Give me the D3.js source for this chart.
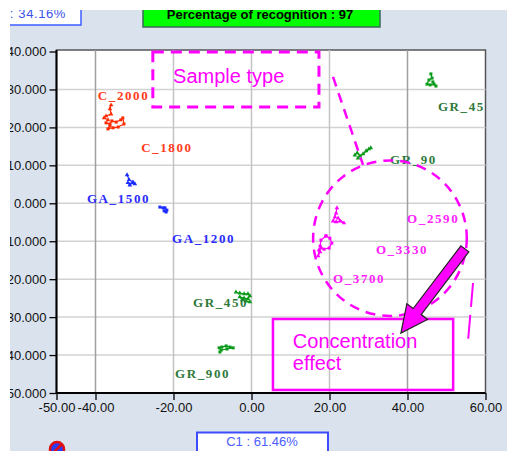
<!DOCTYPE html>
<html>
<head>
<meta charset="utf-8">
<script src="https://cdn.jsdelivr.net/npm/d3@7"></script>
<style>
  html, body { margin: 0; padding: 0; background: #ffffff; }
  svg { display: block; }
</style>
</head>
<body>
<div id="chart"></div>
<script>
// PCA score plot - sample clusters, D3 version

const width = 507;
const height = 451;

// Axis ticks
const xTicks = [-50, -40, -20, 0, 20, 40, 60];
const yTicks = [40, 30, 20, 10, 0, -10, -20, -30, -40, -50];
const xGrid = [-40, -20, 0, 20, 40];
const yGrid = [30, 20, 10, 0, -10, -20, -30, -40];

// Cluster names and their colour group
const clusterNames = ["C_2000", "C_1800", "GA_1500", "GA_1200", "GR_450", "GR_900", "GR_90", "GR_45", "O_2590", "O_3330", "O_3700"];
const clusterGroups = ["C", "C", "GA", "GA", "GR", "GR", "GR", "GR", "O", "O", "O"];

// Score points (C1, C2) of each cluster
const ptsC2000 = [[-36.0, 25.9], [-36.3, 24.9], [-36.0, 23.5], [-37.3, 23.0], [-37.8, 22.5], [-36.8, 22.0]];
const ptsC1800 = [[-37.3, 21.2], [-36.3, 20.9], [-35.8, 21.7], [-34.7, 21.4], [-33.5, 22.0], [-33.0, 22.5], [-32.7, 20.9], [-34.2, 20.1], [-35.5, 19.9], [-36.8, 19.6], [-36.3, 20.4]];
const ptsGA1500 = [[-31.9, 7.5], [-31.4, 6.2], [-30.4, 5.6], [-31.2, 4.8], [-31.7, 5.4], [-29.9, 5.1]];
const ptsGA1200 = [[-23.5, -1.0], [-22.7, -1.2], [-22.2, -1.2], [-21.7, -1.8], [-21.9, -2.3], [-22.4, -2.0]];
const ptsGR450 = [[-4.0, -23.4], [-3.0, -23.7], [-1.9, -23.9], [-0.9, -23.9], [-0.4, -24.4], [-0.9, -25.2], [-1.9, -25.0], [-3.0, -24.7], [-2.4, -25.5], [-1.4, -25.8], [-0.4, -26.0]];
const ptsGR900 = [[-8.3, -38.1], [-7.6, -37.9], [-6.5, -37.6], [-5.5, -37.9], [-4.7, -38.1], [-6.3, -38.4], [-7.8, -38.7], [-8.1, -39.2]];
const ptsGR90 = [[26.5, 12.7], [27.1, 13.3], [27.8, 12.5], [28.6, 13.0], [29.4, 13.8], [30.1, 14.3], [30.6, 14.6], [27.3, 11.9]];
const ptsGR45 = [[46.0, 34.1], [46.3, 33.0], [45.5, 32.5], [45.0, 31.4], [45.8, 31.2], [46.8, 31.4], [47.3, 30.9], [46.5, 32.0]];
const ptsO2590 = [[21.9, -1.2], [21.7, -2.6], [21.4, -3.6], [20.9, -4.7], [21.7, -4.9], [22.7, -4.7], [23.7, -5.2], [22.2, -3.9]];
const ptsO3330 = [[19.1, -8.6], [20.1, -9.2], [20.6, -10.5], [19.9, -11.8], [18.6, -12.1], [17.6, -11.3], [17.8, -9.7], [19.1, -8.6]];
const ptsO3700 = [[17.8, -11.8], [17.3, -12.3], [17.1, -13.9], [17.6, -12.8]];
const clusterPoints = [ptsC2000, ptsC1800, ptsGA1500, ptsGA1200, ptsGR450, ptsGR900, ptsGR90, ptsGR45, ptsO2590, ptsO3330, ptsO3700];

// Where each cluster name is written (data units)
const labelX = [-39.4, -28.3, -42.2, -20.4, -15.0, -19.6, 35.5, 47.8, 39.9, 31.9, 20.9];
const labelY = [27.2, 13.5, 0.1, -10.5, -27.3, -46.0, 10.4, 24.3, -5.2, -13.4, -21.0];

// Percentages shown in the header / footer boxes
const headerTexts = ["C2 : 34.16%", "Percentage of recognition : 97", "C1 : 61.46%"];

const groupColor = { C: "#ff2a00", GA: "#1a2cff", GR: "#0a9a1a", O: "#ff00ff" };
const labelColor = { C: "#ff3a1a", GA: "#2a2aff", GR: "#2e7a3a", O: "#ff22ff" };
const magenta = "#ff00ff";

const svg = d3.select("#chart").append("svg")
  .attr("width", width)
  .attr("height", height);

svg.append("clipPath").attr("id", "panel-clip")
  .append("rect").attr("x", 10).attr("y", 10).attr("width", width - 10).attr("height", height - 10);

const panel = svg.append("g").attr("clip-path", "url(#panel-clip)");

// window background
panel.append("rect")
  .attr("x", 10).attr("y", 10)
  .attr("width", width - 10).attr("height", height - 10)
  .attr("fill", "#dae3ed");

const x = d3.scaleLinear().domain([-50, 60]).range([56.5, 485.5]);
const y = d3.scaleLinear().domain([-50, 40.4]).range([393, 50]);

// plot area
panel.append("rect")
  .attr("x", x(-50)).attr("y", y(40.4))
  .attr("width", x(60) - x(-50)).attr("height", y(-50) - y(40.4))
  .attr("fill", "#ffffff")
  .attr("stroke", "#555555")
  .attr("stroke-width", 1.5);

// grid
panel.append("g").selectAll("line").data(yGrid).enter().append("line")
  .attr("x1", x(-50)).attr("x2", x(60))
  .attr("y1", d => y(d)).attr("y2", d => y(d))
  .attr("stroke", "#d2d2d2").attr("stroke-width", 1.5);

panel.append("g").selectAll("line").data(xGrid).enter().append("line")
  .attr("x1", d => x(d)).attr("x2", d => x(d))
  .attr("y1", y(40.4)).attr("y2", y(-50))
  .attr("stroke", d => Math.abs(d) === 40 ? "#a0a0a0" : "#c4c4c4")
  .attr("stroke-width", 1.5);

// axes
const yAxis = panel.append("g")
  .attr("transform", `translate(${x(-50)},0)`)
  .call(d3.axisLeft(y).tickValues(yTicks).tickFormat(d => d.toFixed(3)).tickSize(7).tickSizeOuter(0));

const xAxis = panel.append("g")
  .attr("transform", `translate(0,${y(-50)})`)
  .call(d3.axisBottom(x).tickValues(xTicks).tickFormat(d => d.toFixed(2)).tickSize(7).tickSizeOuter(0));

[xAxis, yAxis].forEach(ax => {
  ax.select(".domain").attr("stroke", "#000").attr("stroke-width", 2);
  ax.selectAll(".tick line").attr("stroke", "#000").attr("stroke-width", 1.3);
  ax.selectAll("text")
    .attr("fill", "#111")
    .attr("font-family", "Liberation Sans, Arial, sans-serif")
    .attr("font-size", "13px");
});
yAxis.select(".domain").attr("d", `M0,${y(40.4)}V${y(-50)}`);
xAxis.select(".domain").attr("d", `M${x(-50)},0H${x(60)}`);

// clusters: connected trajectories with small markers
const plot = panel.append("g");
const line = d3.line().x(d => x(d[0])).y(d => y(d[1]));

clusterPoints.forEach((pts, i) => {
  const col = groupColor[clusterGroups[i]];
  plot.append("path")
    .attr("d", line(pts))
    .attr("fill", "none")
    .attr("stroke", col)
    .attr("stroke-width", 1.2);

  const shape = i % 2 === 0 ? d3.symbolTriangle : d3.symbolSquare;
  plot.append("g").selectAll("path").data(pts).enter().append("path")
    .attr("transform", d => `translate(${x(d[0])},${y(d[1])})`)
    .attr("d", d3.symbol().type(shape).size(9))
    .attr("fill", col);
});

// cluster names
const plotClip = svg.append("clipPath").attr("id", "plot-clip")
  .append("rect")
  .attr("x", x(-50)).attr("y", y(40.4))
  .attr("width", x(60) - x(-50)).attr("height", y(-50) - y(40.4));

panel.append("g").attr("clip-path", "url(#plot-clip)")
  .selectAll("text").data(clusterNames).enter().append("text")
  .attr("x", (d, i) => x(labelX[i]))
  .attr("y", (d, i) => y(labelY[i]))
  .attr("fill", (d, i) => labelColor[clusterGroups[i]])
  .attr("font-family", "Liberation Serif, Times New Roman, serif")
  .attr("font-weight", "bold")
  .attr("font-size", "13px")
  .attr("letter-spacing", "1.6px")
  .text(d => d);

// annotations
const ann = panel.append("g");

// "Sample type" dashed box
ann.append("rect")
  .attr("x", x(-25.3)).attr("y", y(39.9))
  .attr("width", x(17.3) - x(-25.3)).attr("height", y(25.4) - y(39.9))
  .attr("fill", "none").attr("stroke", magenta)
  .attr("stroke-width", 3).attr("stroke-dasharray", "11,7");

ann.append("text")
  .attr("x", x(-20.1)).attr("y", y(31.7))
  .attr("fill", magenta)
  .attr("font-family", "Liberation Sans, Arial, sans-serif")
  .attr("font-size", "20px")
  .text("Sample type");

// connector to the circle
ann.append("line")
  .attr("x1", x(20.9)).attr("y1", y(33.3))
  .attr("x2", x(28.6)).attr("y2", y(10.1))
  .attr("stroke", magenta).attr("stroke-width", 2.5)
  .attr("stroke-dasharray", "10,7");

// dashed circle around the O samples
ann.append("ellipse")
  .attr("cx", x(35.5)).attr("cy", y(-9.2))
  .attr("rx", x(35.5 + 19.7) - x(35.5))
  .attr("ry", y(-9.2 - 20.5) - y(-9.2))
  .attr("fill", "none").attr("stroke", magenta)
  .attr("stroke-width", 2.5).attr("stroke-dasharray", "10,7");

// stray dashed stroke at the right
ann.append("path")
  .attr("d", `M${x(56.8)},${y(-21.0)}L${x(55.5)},${y(-36.6)}L${x(54.4)},${y(-36.6)}`)
  .attr("fill", "none").attr("stroke", magenta)
  .attr("stroke-width", 2).attr("stroke-dasharray", "24,8");

// "Concentration effect" box
ann.append("rect")
  .attr("x", x(5.5)).attr("y", y(-30.5))
  .attr("width", x(51.7) - x(5.5)).attr("height", y(-49.2) - y(-30.5))
  .attr("fill", "none").attr("stroke", magenta).attr("stroke-width", 2.5);

ann.append("text")
  .attr("x", x(10.6)).attr("y", y(-38.1))
  .attr("fill", magenta)
  .attr("font-family", "Liberation Sans, Arial, sans-serif")
  .attr("font-size", "20px")
  .text("Concentration");

ann.append("text")
  .attr("x", x(10.6)).attr("y", y(-43.9))
  .attr("fill", magenta)
  .attr("font-family", "Liberation Sans, Arial, sans-serif")
  .attr("font-size", "20px")
  .text("effect");

// block arrow
function arrowPoints(x0, y0, x1, y1, shaft, head, headLen) {
  const dx = x1 - x0, dy = y1 - y0;
  const len = Math.hypot(dx, dy);
  const ux = dx / len, uy = dy / len;
  const nx = -uy, ny = ux;
  const bx = x1 - ux * headLen, by = y1 - uy * headLen;
  return [
    [x0 + nx * shaft, y0 + ny * shaft],
    [bx + nx * shaft, by + ny * shaft],
    [bx + nx * head, by + ny * head],
    [x1, y1],
    [bx - nx * head, by - ny * head],
    [bx - nx * shaft, by - ny * shaft],
    [x0 - nx * shaft, y0 - ny * shaft]
  ];
}

ann.append("polygon")
  .attr("points", arrowPoints(x(54.7), y(-12.0), x(38.3), y(-34.2), 5, 13, 27).map(p => p.join(",")).join(" "))
  .attr("fill", magenta)
  .attr("stroke", "#222")
  .attr("stroke-width", 1.2)
  .attr("stroke-linejoin", "miter");

// header / footer boxes
panel.append("rect")
  .attr("x", -60).attr("y", 4).attr("width", 141).attr("height", 21)
  .attr("fill", "#ffffff").attr("stroke", "#3d5cff").attr("stroke-width", 1.5);

panel.append("text")
  .attr("x", 66).attr("y", 18)
  .attr("text-anchor", "end")
  .attr("fill", "#3a52e8")
  .attr("font-family", "Liberation Sans, Arial, sans-serif")
  .attr("font-size", "13px")
  .attr("letter-spacing", "0.6px")
  .text(headerTexts[0]);

panel.append("rect")
  .attr("x", 143).attr("y", 4).attr("width", 237).attr("height", 23)
  .attr("fill", "#00ff00").attr("stroke", "#3a6a5a").attr("stroke-width", 1.5);

panel.append("text")
  .attr("x", 260).attr("y", 18.5)
  .attr("text-anchor", "middle")
  .attr("fill", "#000")
  .attr("font-family", "Liberation Sans, Arial, sans-serif")
  .attr("font-weight", "bold")
  .attr("font-size", "13px")
  .text(headerTexts[1]);

panel.append("rect")
  .attr("x", 197).attr("y", 432.5).attr("width", 131).attr("height", 24)
  .attr("fill", "#ffffff").attr("stroke", "#3d4cff").attr("stroke-width", 2);

panel.append("text")
  .attr("x", 262).attr("y", 445.5)
  .attr("text-anchor", "middle")
  .attr("fill", "#4a5cff")
  .attr("font-family", "Liberation Sans, Arial, sans-serif")
  .attr("font-size", "13px")
  .text(headerTexts[2]);

// little app icon in the corner
const icon = panel.append("g").attr("transform", "translate(57,449)");
icon.append("circle").attr("r", 7).attr("fill", "#2a3cff").attr("stroke", "#e01010").attr("stroke-width", 2.5);
icon.append("line").attr("x1", -5).attr("y1", 5).attr("x2", 5).attr("y2", -5).attr("stroke", "#e01010").attr("stroke-width", 2.5);
</script>
</body>
</html>
